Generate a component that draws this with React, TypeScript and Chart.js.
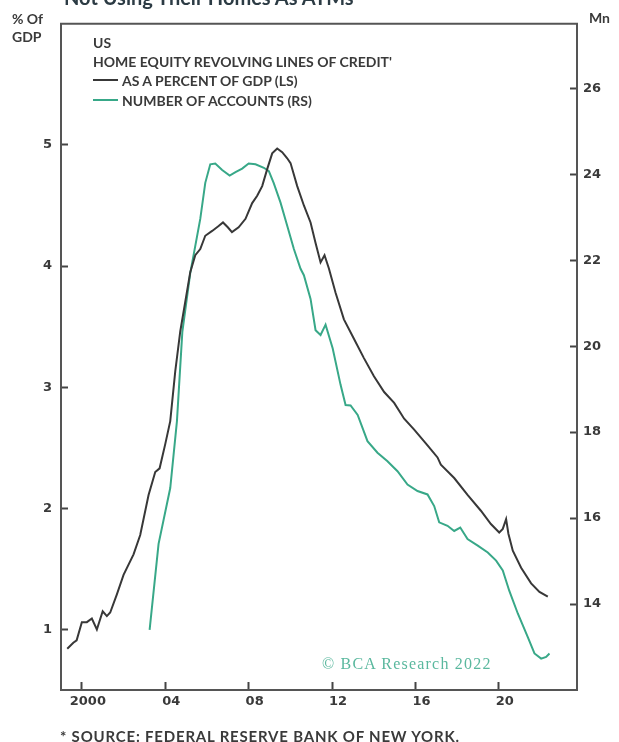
import { useEffect, useRef } from "react";
import { Chart, registerables } from "chart.js";
Chart.register(...registerables);

const xTicks = [2000, 2004, 2008, 2012, 2016, 2020];
const xTickLabels = ["2000", "04", "08", "12", "16", "20"];
const leftTicks = [1, 2, 3, 4, 5];
const rightTicks = [14, 16, 18, 20, 22, 24, 26];

const gdpYears = [
  1999.3, 1999.59, 1999.75, 2000.0, 2000.24, 2000.48, 2000.72, 2001.0, 2001.2, 2001.36,
  2001.68, 2002.0, 2002.48, 2002.8, 2003.2, 2003.52, 2003.73, 2004.0, 2004.24, 2004.48,
  2004.72, 2005.2, 2005.44, 2005.68, 2005.92, 2006.25, 2006.56, 2006.77, 2007.0, 2007.2,
  2007.52, 2007.85, 2008.17, 2008.41, 2008.65, 2008.89, 2009.13, 2009.37, 2009.61, 2009.85,
  2010.01, 2010.33, 2010.65, 2010.97, 2011.21, 2011.45, 2011.64, 2011.85, 2012.17, 2012.57,
  2013.05, 2013.53, 2014.01, 2014.5, 2014.98, 2015.46, 2015.94, 2016.58, 2017.06, 2017.22,
  2017.86, 2018.5, 2019.14, 2019.62, 2020.02, 2020.19, 2020.35, 2020.46, 2020.67, 2021.07,
  2021.55, 2021.95, 2022.35,
];
const gdpValues = [
  0.84, 0.89, 0.91, 1.06, 1.06, 1.09, 1.0, 1.15, 1.11, 1.14,
  1.29, 1.45, 1.62, 1.78, 2.11, 2.3, 2.33, 2.53, 2.72, 3.13,
  3.46, 3.95, 4.09, 4.14, 4.25, 4.29, 4.33, 4.36, 4.32, 4.28,
  4.32, 4.39, 4.52, 4.58, 4.66, 4.8, 4.93, 4.97, 4.94, 4.89,
  4.85, 4.66, 4.5, 4.36, 4.19, 4.03, 4.09, 3.98, 3.78, 3.56,
  3.4, 3.24, 3.09, 2.96, 2.87, 2.74, 2.65, 2.52, 2.42, 2.36,
  2.25, 2.11, 1.98, 1.87, 1.8, 1.83, 1.91, 1.79, 1.65, 1.51,
  1.38, 1.31, 1.27,
];

const acctYears = [
  2003.25, 2003.68, 2004.24, 2004.56, 2004.82, 2005.2, 2005.68, 2005.92, 2006.16, 2006.4,
  2006.73, 2007.09, 2007.37, 2007.69, 2008.0, 2008.33, 2008.73, 2008.97, 2009.2, 2009.53,
  2009.85, 2010.17, 2010.49, 2010.65, 2010.97, 2011.21, 2011.45, 2011.69, 2012.03, 2012.41,
  2012.65, 2012.89, 2013.23, 2013.7, 2014.18, 2014.66, 2015.14, 2015.62, 2016.1, 2016.58,
  2016.9, 2017.14, 2017.54, 2017.86, 2018.15, 2018.5, 2018.99, 2019.47, 2019.87, 2020.19,
  2020.5, 2020.91, 2021.39, 2021.71, 2022.03, 2022.27, 2022.43,
];
const acctValues = [
  13.4, 15.4, 16.7, 18.25, 20.33, 21.7, 22.96, 23.8, 24.23, 24.25,
  24.1, 23.97, 24.05, 24.13, 24.25, 24.23, 24.15, 24.07, 23.8, 23.34,
  22.8, 22.26, 21.8, 21.65, 21.1, 20.37, 20.26, 20.5, 19.95, 19.1,
  18.63, 18.62, 18.4, 17.79, 17.52, 17.32, 17.09, 16.78, 16.63, 16.55,
  16.28, 15.9, 15.82, 15.7, 15.78, 15.51, 15.36, 15.2, 15.01, 14.78,
  14.31, 13.78, 13.23, 12.85, 12.73, 12.77, 12.85,
];

const DARK = "#383838";
const GREEN = "#38a888";
const AXIS = "#555555";
const TEXT = "#3a3a3a";
const FONT = "Lato, 'Open Sans', sans-serif";
const TICK_FONT = "'DejaVu Sans', sans-serif";

const framePlugin = {
  id: "frameTop",
  afterDraw(chart: any) {
    const { ctx, chartArea } = chart;
    ctx.save();
    ctx.strokeStyle = AXIS;
    ctx.lineWidth = 2;
    ctx.beginPath();
    ctx.moveTo(chartArea.left - 1, chartArea.top);
    ctx.lineTo(chartArea.right + 1, chartArea.top);
    ctx.stroke();
    ctx.restore();
  },
};

export default function App() {
  const ref = useRef<HTMLCanvasElement | null>(null);

  useEffect(() => {
    if (!ref.current) return;
    const tickFont = { family: TICK_FONT, size: 13, weight: "bold" as const };
    const chart = new Chart(ref.current, {
      type: "line",
      data: {
        datasets: [
          {
            label: "AS A PERCENT OF GDP (LS)",
            data: gdpYears.map((x, i) => ({ x, y: gdpValues[i] })),
            borderColor: DARK,
            borderWidth: 2,
            pointRadius: 0,
            yAxisID: "y",
            tension: 0,
          },
          {
            label: "NUMBER OF ACCOUNTS (RS)",
            data: acctYears.map((x, i) => ({ x, y: acctValues[i] })),
            borderColor: GREEN,
            borderWidth: 2,
            pointRadius: 0,
            yAxisID: "y1",
            tension: 0,
          },
        ],
      },
      options: {
        animation: false,
        responsive: false,
        devicePixelRatio: 1,
        layout: { padding: { left: 0, right: 0, top: 20, bottom: 22 } },
        plugins: { legend: { display: false }, tooltip: { enabled: false } },
        scales: {
          x: {
            type: "linear",
            min: 1999,
            max: 2023.75,
            afterBuildTicks: (s: any) => {
              s.ticks = xTicks.map((v) => ({ value: v }));
            },
            afterFit: (s: any) => {
              s.height = 30;
            },
            ticks: {
              callback: (v: any) => xTickLabels[xTicks.indexOf(Number(v))] ?? "",
              font: tickFont,
              color: TEXT,
              padding: 12,
              labelOffset: 6,
              maxRotation: 0,
              autoSkip: false,
            },
            grid: {
              drawOnChartArea: false,
              drawTicks: true,
              tickLength: -8,
              tickColor: "#444",
              tickWidth: 2,
            },
            border: { color: AXIS, width: 2 },
          },
          y: {
            position: "left",
            min: 0.5,
            max: 6,
            afterBuildTicks: (s: any) => {
              s.ticks = leftTicks.map((v) => ({ value: v }));
            },
            afterFit: (s: any) => {
              s.width = 61;
            },
            ticks: { font: tickFont, color: TEXT, padding: 16 },
            grid: {
              drawOnChartArea: false,
              drawTicks: true,
              tickLength: -7,
              tickColor: "#444",
              tickWidth: 2,
            },
            border: { color: AXIS, width: 2 },
          },
          y1: {
            position: "right",
            min: 12,
            max: 27.5,
            afterBuildTicks: (s: any) => {
              s.ticks = rightTicks.map((v) => ({ value: v }));
            },
            afterFit: (s: any) => {
              s.width = 42;
            },
            ticks: { font: tickFont, color: TEXT, padding: 13 },
            grid: {
              drawOnChartArea: false,
              drawTicks: true,
              tickLength: -7,
              tickColor: "#444",
              tickWidth: 2,
            },
            border: { color: AXIS, width: 2 },
          },
        },
      },
      plugins: [framePlugin],
    });
    return () => chart.destroy();
  }, []);

  const txt: React.CSSProperties = {
    position: "absolute",
    fontFamily: FONT,
    fontWeight: 700,
    color: TEXT,
    whiteSpace: "nowrap",
    lineHeight: "1",
  };

  return (
    <div
      style={{
        position: "fixed",
        left: 0,
        top: 0,
        width: 619,
        height: 742,
        background: "#fff",
        overflow: "hidden",
      }}
    >
      <canvas ref={ref} width={619} height={742} style={{ position: "absolute", left: 0, top: 0 }} />
      <div style={{ ...txt, left: 64, top: -13, fontSize: 20, color: "#2c3b44" }}>
        Not Using Their Homes As ATMs
      </div>
      <div style={{ ...txt, left: 12, top: 10, fontSize: 14, lineHeight: "18px" }}>
        % Of
        <br />
        GDP
      </div>
      <div style={{ ...txt, left: 589, top: 11, fontSize: 14 }}>Mn</div>
      <div style={{ ...txt, left: 93, top: 36, fontSize: 14 }}>US</div>
      <div style={{ ...txt, left: 93, top: 55, fontSize: 14 }}>HOME EQUITY REVOLVING LINES OF CREDIT'</div>
      <div style={{ position: "absolute", left: 93, top: 79, width: 25, height: 2, background: DARK }} />
      <div style={{ ...txt, left: 122, top: 74, fontSize: 14 }}>AS A PERCENT OF GDP (LS)</div>
      <div style={{ position: "absolute", left: 93, top: 99, width: 25, height: 2, background: GREEN }} />
      <div style={{ ...txt, left: 122, top: 94, fontSize: 14 }}>NUMBER OF ACCOUNTS (RS)</div>
      <div
        style={{
          ...txt,
          left: 322,
          top: 656,
          fontSize: 16,
          fontWeight: 400,
          fontFamily: "'Liberation Serif', 'DejaVu Serif', serif",
          color: "#5ab89e",
          letterSpacing: "1.2px",
        }}
      >
        © BCA Research 2022
      </div>
      <div style={{ ...txt, left: 60, top: 729, fontSize: 15, letterSpacing: "0.8px" }}>
        * SOURCE: FEDERAL RESERVE BANK OF NEW YORK.
      </div>
    </div>
  );
}
